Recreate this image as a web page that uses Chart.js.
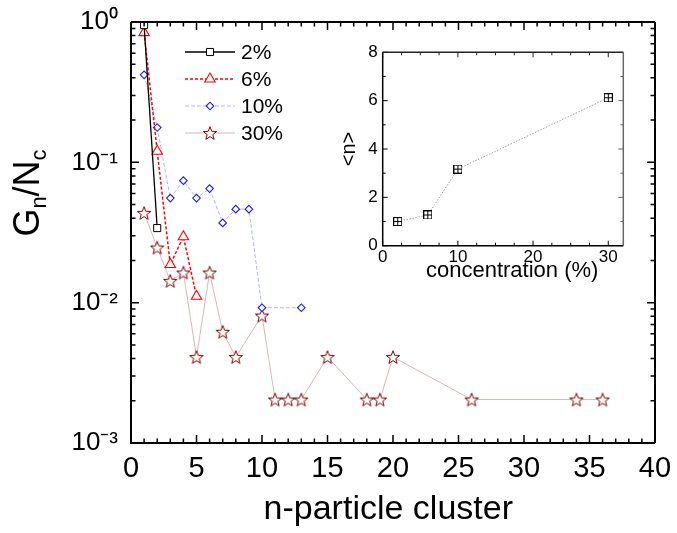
<!DOCTYPE html>
<html>
<head>
<meta charset="utf-8">
<script src="https://cdn.jsdelivr.net/npm/chart.js@4.4.1/dist/chart.umd.min.js"></script>
<style>
  html, body { margin: 0; padding: 0; background: #fff; }
  #wrap { position: relative; width: 677px; height: 533px; }
  #main { position: absolute; left: 0; top: 0; }
  #inset { position: absolute; left: 330px; top: 30px; }
</style>
</head>
<body>
<div id="wrap">
  <canvas id="main" width="677" height="533"></canvas>
  <canvas id="inset" width="320" height="270"></canvas>
</div>
<script>
// cluster size n and G_n/N_c for each concentration
const size2 = [1, 2];
const ratio2 = [0.95, 0.034];
const size6 = [1, 2, 3, 4, 5];
const ratio6 = [0.84, 0.12, 0.0187, 0.0295, 0.0111];
const size10 = [1, 2, 3, 4, 5, 6, 7, 8, 9, 10, 13];
const ratio10 = [0.42, 0.177, 0.0556, 0.074, 0.0556, 0.065, 0.037, 0.0464, 0.0464, 0.0092, 0.0092];
const size30 = [1, 2, 3, 4, 5, 6, 7, 8, 10, 11, 12, 13, 15, 18, 19, 20, 26, 34, 36];
const ratio30 = [0.0436, 0.0247, 0.0143, 0.0164, 0.0041, 0.0164, 0.0062, 0.0041, 0.0081, 0.00204, 0.00204, 0.00204,
                 0.0041, 0.00204, 0.00204, 0.0041, 0.00204, 0.00204, 0.00204];
const seriesLabels = ["2%", "6%", "10%", "30%"];

// inset: mean cluster size vs concentration
const concentration = [2, 6, 10, 30];
const meanSize = [1.0, 1.27, 3.17, 6.12];

// ticks
const xTicks = [0, 5, 10, 15, 20, 25, 30, 35, 40];
const yTicks = [0.001, 0.01, 0.1, 1];
const yTickLabels = ["10\u207B\u00B3", "10\u207B\u00B2", "10\u207B\u00B9", "10\u2070"];
const insetXTicks = [0, 10, 20, 30];
const insetYTicks = [0, 2, 4, 6, 8];

const FONT = "'Liberation Sans', Arial, sans-serif";
Chart.defaults.font.family = FONT;
Chart.defaults.color = "#000";

function pts(xs, ys) {
  return xs.map((x, i) => ({ x: x, y: ys[i] }));
}

// fixed axis size, no extra room asked for the edge labels
function fixSize(w, h) {
  return s => {
    if (w) s.width = w;
    if (h) s.height = h;
    s.paddingTop = s.paddingBottom = s.paddingLeft = s.paddingRight = 0;
  };
}

// five pointed open star
function starImage(px, color) {
  const c = document.createElement("canvas");
  c.width = px; c.height = px;
  const g = c.getContext("2d");
  const R = px / 2 - 1, r = R * 0.42;
  const cx = px / 2, cy = px / 2 + 0.1 * R;
  g.beginPath();
  for (let i = 0; i < 10; i++) {
    const a = -Math.PI / 2 + i * Math.PI / 5;
    const rr = i % 2 ? r : R;
    const X = cx + rr * Math.cos(a), Y = cy + rr * Math.sin(a);
    if (i === 0) g.moveTo(X, Y); else g.lineTo(X, Y);
  }
  g.closePath();
  g.fillStyle = "#fff";
  g.fill();
  g.strokeStyle = color;
  g.lineWidth = 1;
  g.stroke();
  return c;
}

// square with a cross inside
function boxPlusImage(px) {
  const c = document.createElement("canvas");
  c.width = px; c.height = px;
  const g = c.getContext("2d");
  g.fillStyle = "#fff";
  g.fillRect(0.5, 0.5, px - 1, px - 1);
  g.strokeStyle = "#000";
  g.lineWidth = 1;
  g.strokeRect(0.5, 0.5, px - 1, px - 1);
  g.beginPath();
  g.moveTo(px / 2, 0.5); g.lineTo(px / 2, px - 0.5);
  g.moveTo(0.5, px / 2); g.lineTo(px - 0.5, px / 2);
  g.stroke();
  return c;
}

const star = starImage(16, "#800000");
const boxPlus = boxPlusImage(9);

// inward ticks on all four sides plus the frame
const frameTicks = {
  id: "frameTicks",
  afterDraw(chart, args, o) {
    const { ctx, chartArea: a } = chart;
    const xs = chart.scales.x, ys = chart.scales.y;
    ctx.save();
    ctx.lineCap = "butt";
    const side = (color, width, fn) => {
      ctx.strokeStyle = color; ctx.lineWidth = width;
      ctx.beginPath(); fn(); ctx.stroke();
    };
    const xMarks = (y0, dir, col, w) => side(col, w, () => {
      o.xMajor.forEach(v => { const p = xs.getPixelForValue(v); ctx.moveTo(p, y0); ctx.lineTo(p, y0 + dir * o.major); });
      o.xMinor.forEach(v => { const p = xs.getPixelForValue(v); ctx.moveTo(p, y0); ctx.lineTo(p, y0 + dir * o.minor); });
    });
    const yMarks = (x0, dir, col, w) => side(col, w, () => {
      o.yMajor.forEach(v => { const p = ys.getPixelForValue(v); ctx.moveTo(x0, p); ctx.lineTo(x0 + dir * o.major, p); });
      o.yMinor.forEach(v => { const p = ys.getPixelForValue(v); ctx.moveTo(x0, p); ctx.lineTo(x0 + dir * o.minor, p); });
    });
    xMarks(a.bottom, -1, "#000", o.tickWidth);
    xMarks(a.top, 1, o.topColor, o.tickWidth);
    yMarks(a.left, 1, "#000", o.tickWidth);
    yMarks(a.right, -1, o.rightColor, o.tickWidth);
    // frame
    side("#000", o.frameWidth, () => {
      ctx.moveTo(a.left, a.top); ctx.lineTo(a.left, a.bottom); ctx.lineTo(a.right, a.bottom);
    });
    side(o.topColor, o.frameWidth, () => { ctx.moveTo(a.left, a.top); ctx.lineTo(a.right, a.top); });
    side(o.rightColor, o.frameWidth, () => { ctx.moveTo(a.right, a.top); ctx.lineTo(a.right, a.bottom); });
    ctx.restore();
  }
};

// y title with subscripts: G_n/N_c
const yTitle = {
  id: "yTitle",
  afterDraw(chart) {
    const ctx = chart.ctx;
    const parts = [["G", 36, 0], ["n", 22, 7], ["/", 36, 0], ["N", 36, 0], ["c", 22, 7]];
    ctx.save();
    let w = 0;
    parts.forEach(p => { ctx.font = p[1] + "px " + FONT; w += ctx.measureText(p[0]).width; });
    ctx.translate(39, 193);
    ctx.rotate(-Math.PI / 2);
    ctx.fillStyle = "#000";
    ctx.textBaseline = "alphabetic";
    let x = -w / 2;
    parts.forEach(p => {
      ctx.font = p[1] + "px " + FONT;
      ctx.fillText(p[0], x, p[2]);
      x += ctx.measureText(p[0]).width;
    });
    ctx.restore();
  }
};

// legend inside the plot: line sample with marker, then label
const innerLegend = {
  id: "innerLegend",
  afterDraw(chart) {
    const ctx = chart.ctx;
    const rows = [52, 79, 106, 133];
    chart.data.datasets.forEach((ds, i) => {
      const y = rows[i];
      ctx.save();
      ctx.strokeStyle = ds.borderColor;
      ctx.lineWidth = ds.borderWidth;
      ctx.setLineDash(ds.borderDash || []);
      ctx.beginPath(); ctx.moveTo(185, y); ctx.lineTo(235, y); ctx.stroke();
      ctx.setLineDash([]);
      ctx.strokeStyle = ds.pointBorderColor;
      ctx.fillStyle = ds.pointBackgroundColor;
      ctx.lineWidth = ds.pointBorderWidth;
      Chart.helpers.drawPoint(ctx, { pointStyle: ds.pointStyle, radius: ds.pointRadius, borderWidth: ds.pointBorderWidth, rotation: 0 }, 210, y);
      ctx.fillStyle = "#000";
      ctx.font = "21px " + FONT;
      ctx.textBaseline = "middle";
      ctx.fillText(ds.label, 241, y + 1);
      ctx.restore();
    });
  }
};

new Chart(document.getElementById("main"), {
  type: "line",
  data: {
    datasets: [
      { label: seriesLabels[0], data: pts(size2, ratio2), borderColor: "#000", borderWidth: 1.3,
        pointStyle: "rect", pointRadius: 5, pointBorderColor: "#000", pointBackgroundColor: "#fff", pointBorderWidth: 1 },
      { label: seriesLabels[1], data: pts(size6, ratio6), borderColor: "#ff0000", borderWidth: 1.5, borderDash: [3, 2],
        pointStyle: "triangle", pointRadius: 6, pointBorderColor: "#ff0000", pointBackgroundColor: "#fff", pointBorderWidth: 1.1 },
      { label: seriesLabels[2], data: pts(size10, ratio10), borderColor: "rgba(110,120,255,0.55)", borderWidth: 1, borderDash: [4, 2],
        pointStyle: "rectRot", pointRadius: 3.8, pointBorderColor: "#1a1aff", pointBackgroundColor: "#fff", pointBorderWidth: 1.1 },
      { label: seriesLabels[3], data: pts(size30, ratio30), borderColor: "rgba(205,150,150,0.7)", borderWidth: 1,
        pointStyle: star, pointRadius: 7, pointBorderColor: "#800000", pointBackgroundColor: "#fff", pointBorderWidth: 1 }
    ]
  },
  options: {
    responsive: false,
    animation: false,
    devicePixelRatio: 1,
    layout: { autoPadding: false, padding: { top: 22, right: 22, left: 0, bottom: 0 } },
    elements: { line: { tension: 0, fill: false } },
    datasets: { line: { clip: false } },
    plugins: {
      legend: { display: false },
      tooltip: { enabled: false },
      frameTicks: {
        xMajor: xTicks, xMinor: Array.from({ length: 41 }, (_, i) => i).filter(v => v % 5),
        yMajor: yTicks, yMinor: [0.001, 0.01, 0.1].flatMap(d => [2, 3, 4, 5, 6, 7, 8, 9].map(k => k * d)),
        major: 8, minor: 4.5, tickWidth: 1.5, frameWidth: 2, topColor: "#000", rightColor: "#000"
      }
    },
    scales: {
      x: {
        type: "linear", min: 0, max: 40,
        grid: { display: false, drawTicks: false },
        border: { display: false },
        afterBuildTicks: s => { s.ticks = xTicks.map(v => ({ value: v })); },
        afterFit: fixSize(0, 90),
        ticks: { font: { size: 29 }, padding: 9, maxRotation: 0 },
        title: { display: true, text: "n-particle cluster ", font: { size: 34 }, padding: { top: 0, bottom: 3 } }
      },
      y: {
        type: "logarithmic", min: 0.001, max: 1,
        grid: { display: false, drawTicks: false },
        border: { display: false },
        afterBuildTicks: s => { s.ticks = yTicks.map(v => ({ value: v })); },
        afterFit: fixSize(131, 0),
        ticks: { font: { size: 26 }, padding: 13, callback: (v) => yTickLabels[yTicks.indexOf(v)] }
      }
    }
  },
  plugins: [frameTicks, yTitle, innerLegend]
});

new Chart(document.getElementById("inset"), {
  type: "line",
  data: {
    datasets: [
      { label: "<n>", data: pts(concentration, meanSize), borderColor: "#a0a0a0", borderWidth: 1, borderDash: [1.5, 1.5],
        pointStyle: boxPlus, pointRadius: 5, clip: false }
    ]
  },
  options: {
    responsive: false,
    animation: false,
    devicePixelRatio: 1,
    layout: { autoPadding: false, padding: { top: 22.3, right: 26.7, left: 0, bottom: 0 } },
    elements: { line: { tension: 0, fill: false } },
    plugins: {
      legend: { display: false },
      tooltip: { enabled: false },
      frameTicks: {
        xMajor: insetXTicks, xMinor: [2.5, 5, 7.5, 12.5, 15, 17.5, 22.5, 25, 27.5],
        yMajor: insetYTicks, yMinor: [1, 3, 5, 7],
        major: 5, minor: 3, tickWidth: 1, frameWidth: 1.5, topColor: "#222", rightColor: "#666"
      }
    },
    scales: {
      x: {
        type: "linear", min: 0, max: 32,
        grid: { display: false, drawTicks: false },
        border: { display: false },
        afterBuildTicks: s => { s.ticks = insetXTicks.map(v => ({ value: v })); },
        afterFit: fixSize(0, 54.3),
        ticks: { font: { size: 17 }, padding: 1, maxRotation: 0 },
        title: { display: true, text: "   concentration (%)", font: { size: 22 }, padding: { top: 0, bottom: 16 } }
      },
      y: {
        type: "linear", min: 0, max: 8,
        grid: { display: false, drawTicks: false },
        border: { display: false },
        afterBuildTicks: s => { s.ticks = insetYTicks.map(v => ({ value: v })); },
        afterFit: fixSize(52.7, 0),
        ticks: { font: { size: 17 }, padding: 5 },
        title: { display: true, text: "<n>", font: { size: 20 }, padding: { top: 7.5, bottom: 0 } }
      }
    }
  },
  plugins: [frameTicks]
});
</script>
</body>
</html>
